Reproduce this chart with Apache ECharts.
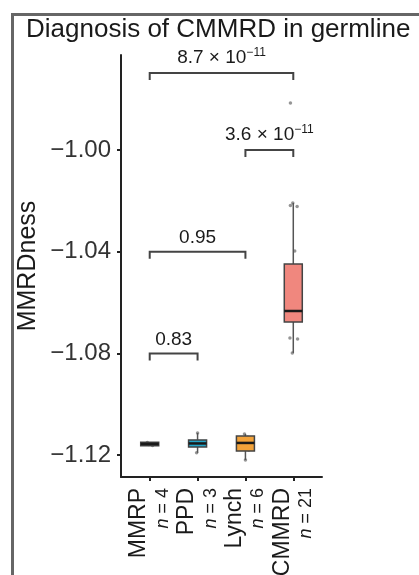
<!DOCTYPE html>
<html>
<head>
<meta charset="utf-8">
<script src="https://cdn.jsdelivr.net/npm/echarts@6/dist/echarts.min.js"></script>
<style>
  html, body { margin: 0; padding: 0; background: #fff; }
  #chart { width: 419px; height: 575px; }
</style>
</head>
<body>
<div id="chart"></div>
<script>
// groups on the x axis
const groups = ['MMRP', 'PPD', 'Lynch', 'CMMRD'];
const groupN = [4, 3, 6, 21];
const boxColors = ['#3c3c3c', '#22a5c8', '#f2a23a', '#f0877e'];

// box stats
const whiskerLow = [-1.1158, -1.1191, -1.1219, -1.0798];
const q1 = [-1.1163, -1.1168, -1.1184, -1.0676];
const median = [-1.1156, -1.1154, -1.1152, -1.0633];
const q3 = [-1.1149, -1.1140, -1.1125, -1.0448];
const whiskerHigh = [-1.1152, -1.1113, -1.1117, -1.0208];

// jittered sample points: [group, value], plus the jitter offset
const pointGroup = [0, 0, 0, 0, 1, 1, 1, 2, 2, 2, 2, 2, 2,
  3, 3, 3, 3, 3, 3, 3, 3, 3, 3, 3, 3, 3, 3, 3, 3, 3, 3, 3, 3, 3];
const pointValue = [-1.1150, -1.1155, -1.1158, -1.1162,
  -1.1113, -1.1156, -1.1191,
  -1.1117, -1.1130, -1.1150, -1.1160, -1.1180, -1.1219,
  -0.9815, -1.0208, -1.0218, -1.0222, -1.0397, -1.0460, -1.0490, -1.0520, -1.0550,
  -1.0570, -1.0590, -1.0610, -1.0625, -1.0640, -1.0650, -1.0660, -1.0670,
  -1.0739, -1.0743, -1.0798];
const pointJitter = [-0.05, 0.04, -0.02, 0.06,
  0.0, 0.03, -0.02,
  -0.02, 0.05, -0.06, 0.02, 0.07, 0.0,
  -0.06, -0.01, -0.06, 0.08, 0.03, -0.05, 0.06, 0.02, -0.07,
  0.04, -0.03, 0.07, 0.0, -0.04, 0.05, -0.08, 0.02,
  -0.07, 0.09, -0.02];

// significance brackets
const cmpFrom = [0, 2, 0, 0];
const cmpTo = [3, 3, 2, 1];
const cmpLevel = [-0.9697, -1.00, -1.04, -1.08];
const cmpLabel = ['8.7 × 10{s|−11}', '3.6 × 10{s|−11}', '0.95', '0.83'];

// y axis
const yTicks = [-1.12, -1.08, -1.04, -1.00];
const yMin = -1.1286;
const yMax = -0.9626;

const FONT = "'Liberation Sans', Arial, sans-serif";
const chart = echarts.init(document.getElementById('chart'));

const boxData = groups.map((g, i) => [i, whiskerLow[i], q1[i], median[i], q3[i], whiskerHigh[i]]);
const pointData = pointValue.map((v, i) => [pointGroup[i] + pointJitter[i], v]);
const bracketData = cmpFrom.map((f, i) => [f, cmpTo[i], cmpLevel[i], i]);

const option = {
  animation: false,
  backgroundColor: '#fff',
  title: {
    text: 'Diagnosis of CMMRD in germline',
    left: 21,
    top: 12,
    textStyle: { fontFamily: FONT, fontSize: 26, fontWeight: 'normal', color: '#1a1a1a' },
  },
  graphic: [
    {
      type: 'rect',
      shape: { x: 12.5, y: 14.5, width: 450, height: 600 },
      style: { fill: 'none', stroke: '#666', lineWidth: 3 },
      silent: true,
    },
  ],
  grid: { left: 121, right: 97, top: 55, bottom: 98, outerBoundsMode: 'none' },
  xAxis: {
    type: 'value',
    min: -0.6,
    max: 3.6,
    splitLine: { show: false },
    axisLine: { show: true, onZero: false, lineStyle: { color: '#222', width: 2 } },
    axisTick: { show: true, length: 4, customValues: [0, 1, 2, 3], lineStyle: { color: '#222', width: 2 } },
    axisLabel: {
      customValues: [0, 1, 2, 3],
      rotate: 90,
      margin: 11,
      formatter: v => `{g|${groups[Math.round(v)]}}\n{i|n}{m| = ${groupN[Math.round(v)]}}`,
      rich: {
        g: { fontFamily: FONT, fontSize: 23, color: '#1a1a1a', lineHeight: 26 },
        i: { fontFamily: FONT, fontSize: 18, fontStyle: 'italic', color: '#1a1a1a', lineHeight: 22 },
        m: { fontFamily: FONT, fontSize: 18, color: '#1a1a1a', lineHeight: 22 },
      },
    },
  },
  yAxis: {
    type: 'value',
    min: yMin,
    max: yMax,
    name: 'MMRDness',
    nameLocation: 'middle',
    nameGap: 80,
    nameTextStyle: { fontFamily: FONT, fontSize: 25, color: '#1a1a1a' },
    splitLine: { show: false },
    axisLine: { show: true, onZero: false, lineStyle: { color: '#222', width: 2 } },
    axisTick: { show: true, length: 4, customValues: yTicks, lineStyle: { color: '#222', width: 2 } },
    axisLabel: {
      customValues: yTicks,
      margin: 10,
      fontFamily: FONT,
      fontSize: 24,
      color: '#333',
      formatter: v => v.toFixed(2).replace('-', '\u2212'),
    },
  },
  series: [
    {
      type: 'scatter',
      z: 1,
      symbolSize: 3.5,
      itemStyle: { color: '#7a7a7a' },
      data: pointData,
    },
    {
      type: 'custom',
      z: 2,
      data: boxData,
      renderItem: (params, api) => {
        const x = api.value(0);
        const lo = api.coord([x, api.value(1)]);
        const b1 = api.coord([x, api.value(2)]);
        const md = api.coord([x, api.value(3)]);
        const b3 = api.coord([x, api.value(4)]);
        const hi = api.coord([x, api.value(5)]);
        const half = 9;
        const cx = lo[0];
        return {
          type: 'group',
          children: [
            { type: 'line', shape: { x1: cx, y1: lo[1], x2: cx, y2: b1[1] }, style: { stroke: '#555', lineWidth: 1.5 } },
            { type: 'line', shape: { x1: cx, y1: b3[1], x2: cx, y2: hi[1] }, style: { stroke: '#555', lineWidth: 1.5 } },
            {
              type: 'rect',
              shape: { x: cx - half, y: b3[1], width: half * 2, height: Math.max(b1[1] - b3[1], 1) },
              style: { fill: boxColors[params.dataIndex], stroke: '#444', lineWidth: 1.5 },
            },
            { type: 'line', shape: { x1: cx - half, y1: md[1], x2: cx + half, y2: md[1] }, style: { stroke: '#1a1a1a', lineWidth: 2.5 } },
          ],
        };
      },
    },
    {
      type: 'custom',
      z: 3,
      data: bracketData,
      renderItem: (params, api) => {
        const a = api.coord([api.value(0), api.value(2)]);
        const b = api.coord([api.value(1), api.value(2)]);
        const tick = 7;
        return {
          type: 'group',
          children: [
            {
              type: 'polyline',
              shape: { points: [[a[0], a[1] + tick], [a[0], a[1]], [b[0], b[1]], [b[0], b[1] + tick]] },
              style: { fill: 'none', stroke: '#444', lineWidth: 2 },
            },
            {
              type: 'text',
              x: (a[0] + b[0]) / 2,
              y: a[1] - 4,
              style: {
                text: cmpLabel[api.value(3)],
                fontFamily: FONT,
                fontSize: 19,
                fill: '#1a1a1a',
                align: 'center',
                verticalAlign: 'bottom',
                rich: {
                  s: { fontFamily: FONT, fontSize: 12, fill: '#1a1a1a', padding: [0, 0, 10, 0] },
                },
              },
            },
          ],
        };
      },
    },
  ],
};

chart.setOption(option);
</script>
</body>
</html>
